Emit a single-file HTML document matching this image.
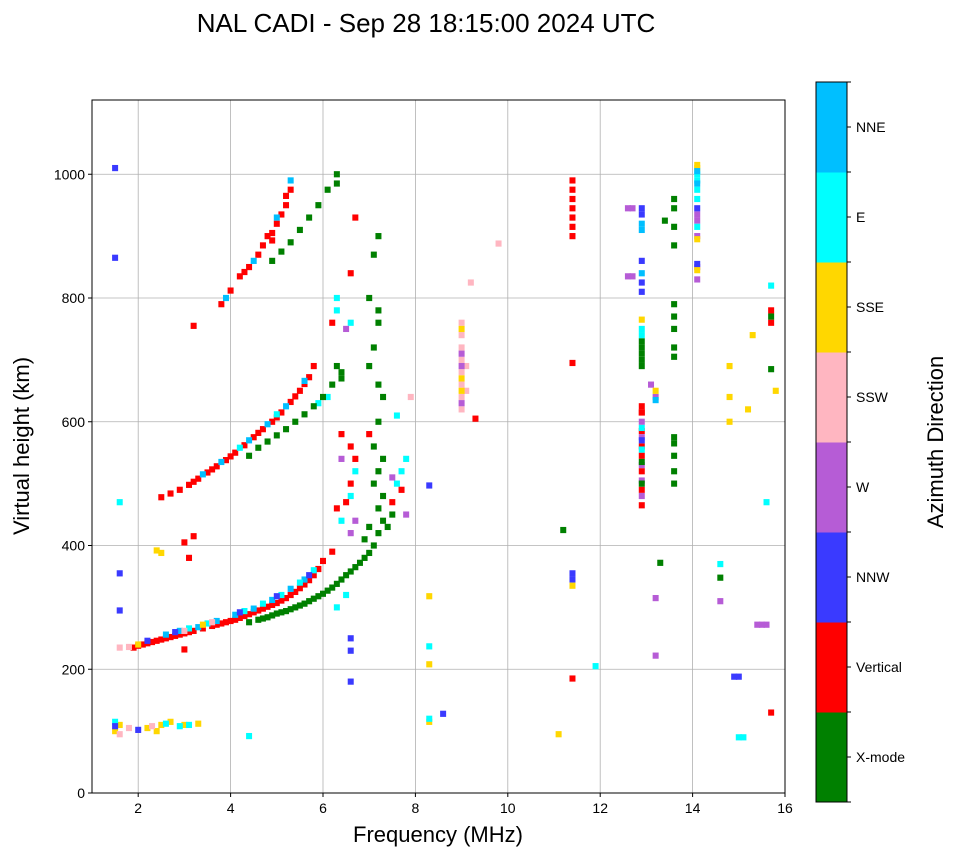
<!DOCTYPE html>
<html><head><meta charset="utf-8"><style>
html,body{margin:0;padding:0;background:#fff;}
svg{display:block;font-family:"Liberation Sans",sans-serif;}
</style></head><body>
<svg id="chart" width="958" height="857" viewBox="0 0 958 857" xmlns="http://www.w3.org/2000/svg">
<text x="426" y="32" font-size="26" text-anchor="middle">NAL CADI - Sep 28 18:15:00 2024 UTC</text>
<g id="grid"></g>
<g id="marks"></g>
<rect x="92" y="100" width="693" height="693" fill="none" stroke="#000" stroke-width="1"/>
<g id="axes"></g>
<text x="438" y="842" font-size="22" text-anchor="middle">Frequency (MHz)</text>
<text transform="translate(29,446) rotate(-90)" font-size="22" text-anchor="middle">Virtual height (km)</text>
<g id="cbar"></g>
<text transform="translate(943,442) rotate(-90)" font-size="22" text-anchor="middle">Azimuth Direction</text>
</svg>
<script>
const dirLabels=["X-mode","Vertical","NNW","W","SSW","SSE","E","NNE"];
const dirColors=["#008000","#ff0000","#3a3aff","#b65cd6","#ffb6c1","#ffd700","#00ffff","#00bfff"];
const xTicks=[2,4,6,8,10,12,14,16];
const yTicks=[0,200,400,600,800,1000];
// echoes: frequency (MHz), virtual height (km), direction index
const freqs=[];const heights=[];const dirs=[];
function add(list,d){for(let i=0;i<list.length;i+=2){freqs.push(list[i]);heights.push(list[i+1]);dirs.push(d);}}
// F2 O-mode (vertical)
add([1.9,235,2.0,238,2.1,240,2.2,242,2.3,244,2.4,246,2.5,248,2.6,250,2.7,252,2.8,254,2.9,256,3.0,258,3.1,260,3.2,262,3.4,266,3.6,270,3.7,272,3.8,274,3.9,276,4.0,278,4.1,280,4.2,283,4.3,286,4.4,289,4.5,292,4.6,295,4.7,298,4.8,301,4.9,304,5.0,307,5.1,311,5.2,315,5.3,320,5.4,325,5.5,331,5.6,337,5.7,344,5.8,352,5.9,362,6.0,375],1);
add([2.6,256,2.9,262,3.3,268,3.7,278,4.1,288,4.5,298,4.9,312,5.3,330,5.6,345],7);
add([3.1,266,3.5,274,4.3,294,4.7,306,5.1,320,5.5,340,5.8,360],6);
add([2.2,246,2.8,260,4.2,292,5.0,318,5.7,352],2);
add([1.6,235,1.8,236,3.0,262,3.6,276],4);
add([2.0,240,3.4,272],5);
// F2 X-mode
add([4.4,276,4.6,280,4.7,282,4.8,284,4.9,287,5.0,290,5.1,292,5.2,294,5.3,297,5.4,300,5.5,303,5.6,306,5.7,310,5.8,314,5.9,318,6.0,322,6.1,327,6.2,332,6.3,338,6.4,345,6.5,352,6.6,358,6.7,365,6.8,372,6.9,380,7.0,388,7.1,400,7.2,420,7.3,440,7.2,460,7.3,480,7.1,500,7.2,520,7.3,540,7.1,560,7.2,600,7.3,640,7.2,660,6.9,410,7.0,430,7.4,430,7.5,450],0);
// second hop
add([2.5,478,2.7,484,2.9,490,3.1,498,3.2,503,3.3,508,3.5,518,3.6,523,3.7,528,3.9,538,4.0,544,4.1,550,4.3,562,4.5,575,4.6,582,4.7,588,4.9,600,5.0,607,5.1,615,5.3,632,5.4,641,5.5,650,5.6,661,5.7,672,5.8,690],1);
add([3.4,515,3.8,535,4.4,570,4.8,596,5.2,625,5.6,666],7);
add([4.2,558,5.0,612,5.9,630,6.1,640],6);
add([4.4,545,4.6,558,4.8,568,5.0,578,5.2,588,5.4,600,5.6,612,5.8,625,6.0,640,6.2,660,6.4,680,6.4,670,6.3,690],0);
// third hop
add([3.8,790,4.0,812,4.2,835,4.3,842,4.4,850,4.6,870,4.7,885,4.8,900,4.9,905,5.0,920,5.1,935,5.2,950,5.3,975,5.2,965,4.9,893],1);
add([3.9,800,4.5,860,5.0,930,5.3,990],7);
add([4.9,860,5.1,875,5.3,890,5.5,910,5.7,930,5.9,950,6.1,975,6.3,1000,6.3,985],0);
// E region
add([1.5,100,1.6,110,2.2,105,2.5,110,2.7,115,3.0,110,3.3,112,2.4,100],5);
add([1.5,115,2.6,112,2.9,108,3.1,110,4.4,92],6);
add([1.6,95,1.8,105,2.3,108],4);
add([1.5,108,2.0,102],2);
// columns & scatter
add([6.3,780,6.3,800,6.6,760,6.7,520,6.6,480,6.3,300,6.5,320,6.4,440,7.6,500,7.7,520,7.6,610,7.8,540],6);
add([6.2,760,6.4,580,6.6,560,6.7,540,6.5,470,6.3,460,6.6,500,6.2,390,7.0,580,7.5,470,7.7,490],1);
add([6.5,750,6.6,420,6.7,440,6.4,540,7.8,450,7.5,510],3);
add([7.0,690,7.1,720,7.2,760,7.0,800,7.2,900,7.1,870,7.2,780],0);
add([6.6,250,6.6,230,6.6,180],2);
add([9.0,620,9.0,640,9.0,660,9.0,680,9.0,700,9.0,720,9.0,740,9.0,760,9.1,690,9.1,650],4);
add([9.0,630,9.0,690,9.0,710],3);
add([9.0,650,9.0,670,9.0,750],5);
add([11.4,900,11.4,915,11.4,930,11.4,945,11.4,960,11.4,975,11.4,990,11.4,695,11.4,185],1);
add([11.4,355,11.4,345],2);
add([11.4,335],5);
add([11.2,425],0);
add([12.9,465,12.9,490,12.9,520,12.9,545,12.9,560,12.9,585,12.9,615,12.9,625,12.9,615],1);
add([12.9,480,12.9,505,12.9,530,12.9,575,12.9,600],3);
add([12.9,500,12.9,535,12.9,690,12.9,700,12.9,710,12.9,720,12.9,730],0);
add([12.9,555,12.9,590,12.9,740,12.9,750],6);
add([12.9,570,12.9,810,12.9,825,12.9,860,12.9,935,12.9,945],2);
add([12.6,835,12.7,835,12.6,945,12.7,945,13.1,660,13.2,640,13.2,315,13.2,222],3);
add([12.9,920,12.9,910,12.9,840,13.2,635],7);
add([12.9,765,13.2,650],5);
add([13.6,500,13.6,520,13.6,545,13.6,565,13.6,575,13.6,705,13.6,720,13.6,750,13.6,770,13.6,790,13.6,885,13.6,915,13.6,945,13.6,960,13.4,925,13.3,372],0);
add([14.1,830,14.1,850,14.1,900,14.1,925,14.1,935],3);
add([14.1,960,14.1,975,14.1,990,14.1,1000,14.1,915],6);
add([14.1,1010,14.1,1015,14.1,845,14.1,895],5);
add([14.1,855,14.1,945],2);
add([14.1,1005,14.1,985],7);
add([14.8,690,14.8,640,14.8,600,15.3,740,15.2,620,15.8,650],5);
add([15.7,820,15.6,470],6);
add([15.7,780,15.7,760,15.7,130],1);
add([15.7,770,15.7,685,14.6,348],0);
add([14.6,370,15.0,90,15.1,90],6);
add([14.6,310,15.4,272,15.5,272,15.6,272],3);
add([14.9,188,15.0,188],2);
add([8.3,318,8.3,208,8.3,115,11.1,95],5);
add([8.3,237,8.3,120,11.9,205],6);
add([8.3,497,8.6,128],2);
add([9.8,888,9.2,825,7.9,640],4);
add([9.3,605,6.6,840,6.7,930],1);
add([1.5,1010,1.5,865,1.6,295,1.6,355],2);
add([1.6,470],6);
add([3.0,405,3.2,415,3.1,380,3.2,755,3.0,232],1);
add([2.4,392,2.5,388],5);

const NS="http://www.w3.org/2000/svg";
const X0=92,X1=785,Y0=793,Y1=100,FMIN=1,FMAX=16,HMAX=1120;
function xs(f){return X0+(f-FMIN)/(FMAX-FMIN)*(X1-X0);}
function ys(h){return Y0-h/HMAX*(Y0-Y1);}
function mk(tag,attrs,parent){const e=document.createElementNS(NS,tag);for(const k in attrs)e.setAttribute(k,attrs[k]);parent.appendChild(e);return e;}
const grid=document.getElementById('grid'),axes=document.getElementById('axes'),marks=document.getElementById('marks'),cbar=document.getElementById('cbar');
xTicks.forEach(t=>{const x=xs(t);
 if(t<FMAX){const g=mk('line',{x1:x,x2:x,y1:Y1,y2:Y0,stroke:'#b0b0b0','stroke-width':0.8},grid);
 
 }
 const tk=mk('line',{x1:x,x2:x,y1:Y0,y2:Y0+4,stroke:'#000'},axes);
 
 
 const tl=mk('text',{x:x,y:Y0+20,'font-size':14,'text-anchor':'middle'},axes);tl.textContent=t;
 
 });
yTicks.forEach(t=>{const y=ys(t);
 if(t>0){const g=mk('line',{x1:X0,x2:X1,y1:y,y2:y,stroke:'#b0b0b0','stroke-width':0.8},grid);
 
 }
 const tk=mk('line',{x1:X0-4,x2:X0,y1:y,y2:y,stroke:'#000'},axes);
 
 
 const tl=mk('text',{x:X0-7,y:y+5,'font-size':14,'text-anchor':'end'},axes);tl.textContent=t;
 
 });
const w=xs(1.13)-xs(1);const hh=Y0-ys(10);
for(let i=0;i<freqs.length;i++){
 const r=mk('rect',{x:xs(freqs[i])-w/2,y:ys(heights[i])-hh/2,width:w,height:hh,fill:dirColors[dirs[i]]},marks);
 
 
}
const CX=816,CW=31,CT=82,CB=802,seg=(CB-CT)/dirLabels.length;
dirLabels.forEach((lab,i)=>{const y=CB-(i+1)*seg;
 const r=mk('rect',{x:CX,y:y,width:CW,height:seg+0.5,fill:dirColors[i]},cbar);
 
 
 const tk=mk('line',{x1:CX+CW,x2:CX+CW+4,y1:y+seg/2,y2:y+seg/2,stroke:'#000'},cbar);
 
 
 const t=mk('text',{x:CX+CW+9,y:y+seg/2+5,'font-size':14},cbar);t.textContent=lab;
 
 });
for(let i=0;i<=dirLabels.length;i++){const y=CT+i*seg;const l=mk('line',{x1:CX+CW,x2:CX+CW+4,y1:y,y2:y,stroke:'#000'},cbar);
 
 }
const fr=mk('rect',{x:CX,y:CT,width:CW,height:CB-CT,fill:'none',stroke:'#000'},cbar);


</script>
</body></html>
